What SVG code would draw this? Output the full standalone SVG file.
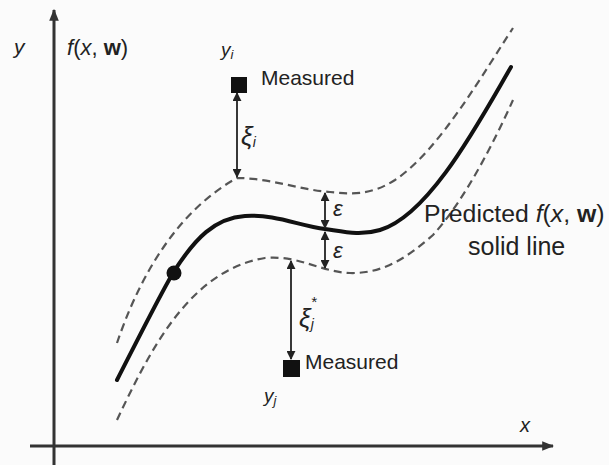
<svg xmlns="http://www.w3.org/2000/svg" width="609" height="465" viewBox="0 0 609 465">
<style>
.t{font-family:"Liberation Sans",Arial,sans-serif;fill:#222}
.i{font-style:italic}
.ax{stroke:#333;stroke-width:3;fill:none}
.sol{stroke:#111;stroke-width:4;fill:none;stroke-linecap:round}
.dash{stroke:#555;stroke-width:2.2;fill:none;stroke-dasharray:8 5}
.arr{stroke:#222;stroke-width:1.8;fill:none}
</style>
<defs>
<marker id="ah" viewBox="0 0 10 10" refX="9" refY="5" markerWidth="5" markerHeight="5" orient="auto-start-reverse"><path d="M0,0 L10,5 L0,10 z" fill="#222"/></marker>
<marker id="axh" viewBox="0 0 10 10" refX="9" refY="5" markerWidth="4" markerHeight="4" orient="auto"><path d="M0,1 L10,5 L0,9 z" fill="#333"/></marker>
</defs>
<rect width="609" height="465" fill="#fbfbfb"/>
<g id="axes">
<line class="ax" x1="54" y1="465" x2="54" y2="10" marker-end="url(#axh)"/>
<line class="ax" x1="30" y1="446" x2="553" y2="446" marker-end="url(#axh)"/>
<text class="t i" x="14" y="54" font-size="21">y</text>
<text class="t" x="67" y="55" font-size="22"><tspan font-style="italic">f</tspan>(<tspan font-style="italic">x</tspan>, <tspan font-weight="bold">w</tspan>)</text>
<text class="t i" x="520" y="432" font-size="20">x</text>
</g>
<g id="curves">
<path class="dash" d="M117,343 C135,290 170,215 237,178 C270,178 300,190 330,192 C350,194 370,196 395,180 C440,150 485,70 513,28"/>
<path class="sol" d="M117,380 C140,335 160,295 173,273 C195,238 215,218 245,216 C275,214 300,226 325,229 C345,232 360,236 380,230 C430,215 480,120 511,67"/>
<path class="dash" d="M117,420 C150,350 190,270 265,258 C300,255 320,272 350,273 C385,274 410,255 433,235 C465,200 495,140 513,100"/>
<circle cx="174" cy="273" r="7.5" fill="#111"/>
</g>
<g id="connectors">
<line class="arr" x1="237" y1="93" x2="237" y2="177" marker-start="url(#ah)" marker-end="url(#ah)"/>
<line class="arr" x1="291" y1="261" x2="291" y2="359" marker-start="url(#ah)" marker-end="url(#ah)"/>
<line class="arr" x1="325" y1="193" x2="325" y2="228" marker-start="url(#ah)" marker-end="url(#ah)"/>
<line class="arr" x1="325" y1="232" x2="325" y2="268" marker-start="url(#ah)" marker-end="url(#ah)"/>
</g>
<g id="measured-top">
<rect x="231" y="77" width="16" height="16" fill="#111"/>
<text class="t" x="261" y="85" font-size="21">Measured</text>
<text class="t i" x="221" y="56" font-size="19">y<tspan font-size="13" dy="3">i</tspan></text>
<text class="t i" x="241" y="145" font-size="26">ξ<tspan font-size="14" dy="2">i</tspan></text>
</g>
<g id="measured-bottom">
<rect x="283" y="360" width="17" height="17" fill="#111"/>
<text class="t" x="305" y="369" font-size="21">Measured</text>
<text class="t i" x="264" y="402" font-size="19">y<tspan font-size="13" dy="3">j</tspan></text>
<text class="t i" x="299" y="327" font-size="26">ξ<tspan font-size="14" dy="2">j</tspan><tspan font-size="15" dx="-3" dy="-22">*</tspan></text>
</g>
<g id="epsilons">
<text class="t i" x="333" y="216" font-size="22">ε</text>
<text class="t i" x="333" y="258" font-size="22">ε</text>
</g>
<g id="predicted-label">
<text class="t" x="424" y="222" font-size="24.8">Predicted <tspan font-style="italic">f</tspan>(<tspan font-style="italic">x</tspan>, <tspan font-weight="bold">w</tspan>)</text>
<text class="t" x="468" y="255" font-size="25">solid line</text>
</g>
</svg>
